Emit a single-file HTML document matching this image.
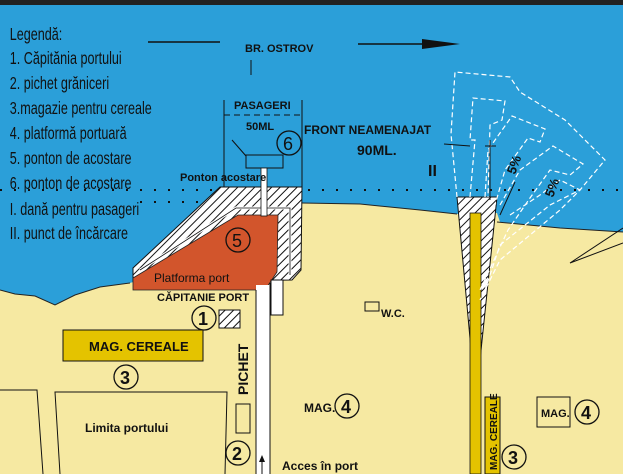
<!DOCTYPE html>
<html><head><meta charset="utf-8"><style>
html,body{margin:0;padding:0;background:#fff}
svg{display:block}
text{font-family:"Liberation Sans",sans-serif;fill:#111}
</style></head><body>
<svg width="623" height="474" viewBox="0 0 623 474" xmlns="http://www.w3.org/2000/svg">
<defs>
<pattern id="h" width="6" height="6" patternUnits="userSpaceOnUse" patternTransform="rotate(45)">
<rect width="6" height="6" fill="#fff"/><line x1="0" y1="0" x2="0" y2="6" stroke="#111" stroke-width="2"/>
</pattern>
</defs>
<rect width="623" height="474" fill="#f6e9a2"/>
<path d="M0,4 H623 V232 L560,228 L500,222 L497,213 L457,214 L420,210 L360,204 L302,203 L300,270 L292,278 L133,282 L130,283 L100,287 L75,295 L55,305 L35,296 L15,294 L0,290 Z" fill="#2b9fd9"/>
<rect x="0" y="0" width="623" height="5" fill="#222"/>
<path d="M302,203 L360,204 L420,210 L457,214 M497,222 L560,228 L623,232" stroke="#222" fill="none" stroke-width="1"/>
<path d="M0,290 L15,294 L35,296 L55,305 L75,295 L100,287 L130,283" stroke="#222" fill="none" stroke-width="1"/>
<line x1="0" y1="190" x2="623" y2="190" stroke="#111" stroke-width="2" stroke-dasharray="2,12"/>
<line x1="140" y1="202" x2="220" y2="202" stroke="#111" stroke-width="2" stroke-dasharray="2,12"/>
<line x1="148" y1="42" x2="220" y2="42" stroke="#111" stroke-width="1.5"/>
<line x1="358" y1="44" x2="425" y2="44" stroke="#111" stroke-width="1.5"/>
<polygon points="422,39 460,44 422,49" fill="#111"/>
<text x="245" y="52" font-size="11" font-weight="bold">BR. OSTROV</text>
<line x1="251" y1="60" x2="251" y2="75" stroke="#111"/>
<g font-size="18" transform="scale(0.7,1)">
<text x="14" y="40">Legendă:</text>
<text x="14" y="64">1. Căpitănia portului</text>
<text x="14" y="89">2. pichet grăniceri</text>
<text x="14" y="114">3.magazie pentru cereale</text>
<text x="14" y="139">4. platformă portuară</text>
<text x="14" y="164">5. ponton de acostare</text>
<text x="14" y="189">6. ponton de acostare</text>
<text x="14" y="215">I. dană pentru pasageri</text>
<text x="14" y="239">II. punct de încărcare</text>
</g>
<line x1="224" y1="100" x2="224" y2="187" stroke="#111"/>
<line x1="302" y1="100" x2="302" y2="190" stroke="#111"/>
<line x1="224" y1="115" x2="302" y2="115" stroke="#111" stroke-dasharray="6,4"/>
<text x="234" y="109" font-size="11" font-weight="bold">PASAGERI</text>
<text x="246" y="130" font-size="11" font-weight="bold">50ML</text>
<circle cx="289" cy="143" r="12" fill="none" stroke="#111" stroke-width="1.3"/>
<text x="283" y="150" font-size="18">6</text>
<text x="304" y="134" font-size="12" font-weight="bold">FRONT NEAMENAJAT</text>
<text x="357" y="155" font-size="14" font-weight="bold">90ML.</text>
<text x="428" y="176" font-size="16" font-weight="bold">II</text>
<line x1="232" y1="140" x2="246" y2="156" stroke="#111"/>
<rect x="246" y="155" width="37" height="13" fill="none" stroke="#111"/>
<polygon points="220,187 302,187 301,270 292,280 133,282 133,268" fill="url(#h)" stroke="#111"/>
<polyline points="140,270 236,208 290,208 290,275" fill="none" stroke="#fff" stroke-width="3"/>
<polyline points="140,270 236,208 290,208 290,275" fill="none" stroke="#111" stroke-width="0.8"/>
<polygon points="238,215 278,215 277,272 265,290 133,290 133,278" fill="#d2552c" stroke="#222" stroke-width="0.8"/>
<rect x="261" y="168" width="6" height="48" fill="#fff" stroke="#111" stroke-width="0.8"/>
<text x="180" y="181" font-size="11" font-weight="bold">Ponton acostare</text>
<circle cx="238" cy="240" r="12" fill="none" stroke="#111" stroke-width="1.3"/>
<text x="232" y="247" font-size="18">5</text>
<text x="154" y="282" font-size="12">Platforma port</text>
<rect x="256" y="285" width="14" height="189" fill="#fff"/>
<line x1="256" y1="290" x2="256" y2="474" stroke="#111"/>
<line x1="270" y1="283" x2="270" y2="474" stroke="#111"/>
<rect x="271" y="280" width="12" height="35" fill="#fff" stroke="#111"/>
<line x1="262" y1="474" x2="262" y2="458" stroke="#111"/>
<polygon points="259,462 262,455 265,462" fill="#111"/>
<text x="282" y="470" font-size="12" font-weight="bold">Acces în port</text>
<text x="157" y="301" font-size="11" font-weight="bold">CĂPITANIE PORT</text>
<circle cx="204" cy="318" r="12" fill="#f6e9a2" stroke="#111" stroke-width="1.3"/>
<text x="198" y="325" font-size="18" font-weight="bold">1</text>
<rect x="219" y="310" width="21" height="18" fill="url(#h)" stroke="#111"/>
<rect x="63" y="330" width="140" height="31" fill="#e4c300" stroke="#111"/>
<text x="89" y="351" font-size="13" font-weight="bold">MAG. CEREALE</text>
<text x="248" y="395" font-size="14" font-weight="bold" transform="rotate(-90 248 395)">PICHET</text>
<circle cx="126" cy="377" r="12" fill="#f6e9a2" stroke="#111" stroke-width="1.3"/>
<text x="120" y="384" font-size="18" font-weight="bold">3</text>
<polyline points="0,390 37,390 43,474" fill="none" stroke="#111"/>
<polyline points="60,474 55,392 227,392 225,474" fill="none" stroke="#111"/>
<text x="85" y="432" font-size="12" font-weight="bold">Limita portului</text>
<rect x="236" y="404" width="14" height="29" fill="none" stroke="#111"/>
<circle cx="238" cy="453" r="12" fill="#f6e9a2" stroke="#111" stroke-width="1.3"/>
<text x="232" y="460" font-size="18" font-weight="bold">2</text>
<rect x="365" y="302" width="14" height="9" fill="none" stroke="#111"/>
<text x="381" y="317" font-size="11" font-weight="bold">W.C.</text>
<text x="304" y="412" font-size="12" font-weight="bold">MAG.</text>
<circle cx="347" cy="406" r="12" fill="none" stroke="#111" stroke-width="1.3"/>
<text x="341" y="413" font-size="18" font-weight="bold">4</text>
<polygon points="457,197 497,197 480,360 472,360" fill="url(#h)" stroke="#111"/>
<rect x="470" y="213" width="11" height="261" fill="#e4c300" stroke="#111" stroke-width="0.8"/>
<rect x="485" y="397" width="15" height="77" fill="#e4c300" stroke="#111"/>
<text x="497" y="470" font-size="10" font-weight="bold" transform="rotate(-90 497 470)">MAG. CEREALE</text>
<circle cx="514" cy="457" r="12" fill="#f6e9a2" stroke="#111" stroke-width="1.3"/>
<text x="508" y="464" font-size="18" font-weight="bold">3</text>
<rect x="537" y="397" width="33" height="30" fill="none" stroke="#111"/>
<text x="541" y="417" font-size="11" font-weight="bold">MAG.</text>
<circle cx="587" cy="412" r="12" fill="none" stroke="#111" stroke-width="1.3"/>
<text x="581" y="419" font-size="18" font-weight="bold">4</text>
<polyline points="623,228 570,263 623,243" fill="none" stroke="#111"/>
<g fill="none" stroke="#fff" stroke-width="1.2" stroke-dasharray="5,3">
<polyline points="457,197 451,134 455,72 510,77 520,92 565,120 605,160 580,190 550,205 500,245 485,290"/>
<polyline points="470,197 475,140 470,140 473,98 505,101 502,120 490,125 488,197"/>
<polyline points="485,197 488,150 512,116 545,129 540,142 528,138 505,170 495,205"/>
<polyline points="500,205 520,170 553,146 583,164 570,175 550,170 530,198 508,230 480,290"/>
<polyline points="510,215 540,195 560,180 580,190 560,210 500,260 480,300"/>
</g>
<g stroke="#111" stroke-width="1">
<line x1="444" y1="144" x2="470" y2="146"/>
<line x1="490" y1="140" x2="490" y2="200"/>
<line x1="485" y1="146" x2="496" y2="146"/>
<line x1="500" y1="215" x2="515" y2="182"/>
</g>
<text x="515" y="175" font-size="13" font-weight="bold" transform="rotate(-70 515 175)">5%</text>
<text x="553" y="198" font-size="13" font-weight="bold" transform="rotate(-70 553 198)">5%</text>
</svg>
</body></html>
